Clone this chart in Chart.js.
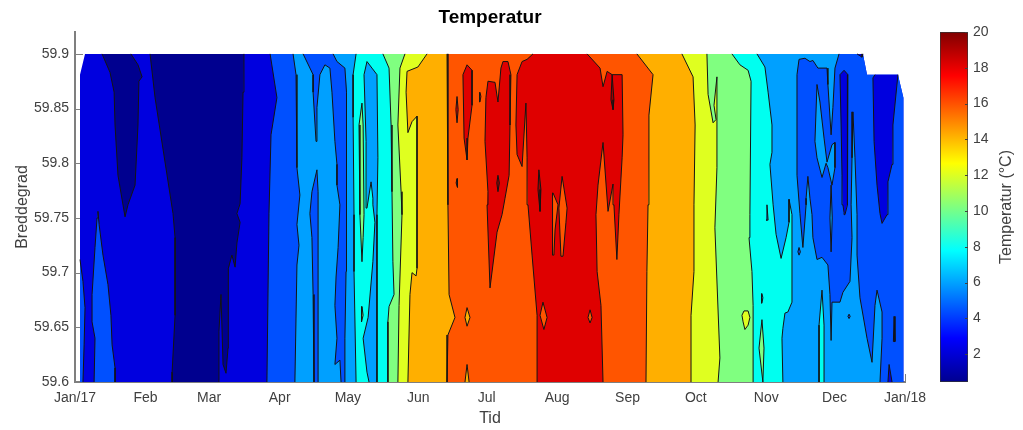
<!DOCTYPE html>
<html><head><meta charset="utf-8">
<style>html,body{margin:0;padding:0;background:#fff}canvas{position:absolute;top:0}</style>
<script src="https://cdn.jsdelivr.net/npm/chart.js@4"></script>
</head><body>
<canvas id="main" width="1023" height="430" style="left:0"></canvas>
<canvas id="bar" width="93" height="430" style="left:930px"></canvas>
<script>
const monthDays=[0,31,59,90,120,151,181,212,243,273,304,334,365];
const monthLabels=['Jan/17','Feb','Mar','Apr','May','Jun','Jul','Aug','Sep','Oct','Nov','Dec','Jan/18'];
const latTicks=[59.6,59.65,59.7,59.75,59.8,59.85,59.9];
const tempTicks=[2,4,6,8,10,12,14,16,18,20];
const tempRange=[0.45,20];

// contour outlines as [day of year, latitude]
const domain=[[4.4,59.9],[346.5,59.9],[348.3,59.881],[361.9,59.881],[364.3,59.86],[364.3,59.6],[2.2,59.6],[2.2,59.881]];
const janEdge=[[2.2,59.712],[3.5,59.692],[4.4,59.668],[4,59.634],[3.5,59.6],[2.2,59.6]];
const janWedge=[[10.1,59.756],[10.6,59.744],[12.3,59.716],[14.5,59.689],[15.8,59.661],[16.3,59.634],[17.6,59.613],[17.6,59.6],[8.4,59.6],[8.8,59.64],[7.5,59.655],[7.5,59.68],[8.8,59.723],[9.7,59.75]];
const febCold=[[11.9,59.9],[15.4,59.883],[17.2,59.865],[17.6,59.835],[18.9,59.789],[22,59.751],[23.3,59.762],[26.4,59.78],[27.7,59.835],[28.1,59.875],[29.5,59.879],[27.7,59.89],[24.6,59.9]];
const marCold=[[33,59.9],[35.2,59.86],[43.1,59.754],[44,59.732],[44,59.661],[42.7,59.609],[42.7,59.6],[63.3,59.6],[63.3,59.646],[64.2,59.68],[65.1,59.616],[66.4,59.608],[67.3,59.631],[67.3,59.655],[67.3,59.691],[67.7,59.704],[69,59.716],[70.4,59.705],[71.2,59.727],[72.6,59.746],[71.2,59.754],[72.6,59.763],[73.4,59.805],[73.9,59.865],[74.3,59.9]];
const level2=[[85.8,59.9],[88.8,59.86],[86.2,59.826],[85.3,59.754],[84.4,59.6],[364.3,59.6],[364.3,59.86],[361.9,59.881],[348.3,59.881],[346.5,59.9]];
const decCold1=[[336.4,59.881],[338.2,59.885],[339.9,59.881],[339.9,59.82],[339.5,59.762],[338.6,59.753],[338.2,59.755],[337.7,59.762],[337.3,59.789],[336.9,59.835]];
const decCold2=[[351.8,59.881],[350.9,59.878],[351.4,59.82],[352.7,59.78],[354,59.754],[354.9,59.745],[357.1,59.753],[357.5,59.783],[359.3,59.799],[359.7,59.835],[361.9,59.881]];
const decCold3=[[358,59.616],[357.5,59.6],[359.3,59.6]];
const decCold4=[[360.2,59.66],[360.6,59.637],[359.9,59.637]];
const decCold5=[[343.9,59.9],[346.5,59.9],[346.1,59.897]];
const level3=[[95.9,59.9],[97.2,59.881],[97.6,59.835],[97.6,59.796],[98.9,59.771],[97.6,59.744],[98.5,59.725],[97.6,59.707],[96.7,59.6],[354,59.6],[354.9,59.64],[354.9,59.664],[352.7,59.684],[351.8,59.67],[350.5,59.618],[348.3,59.64],[345.2,59.677],[343.9,59.716],[343.9,59.753],[343,59.805],[342.1,59.847],[341.7,59.805],[341.3,59.762],[341.7,59.732],[340.8,59.692],[337.7,59.682],[336.4,59.673],[332.9,59.673],[332.5,59.638],[332,59.68],[331.1,59.707],[328.5,59.714],[326.3,59.712],[324.5,59.732],[324.1,59.753],[323.2,59.768],[322.3,59.788],[321.5,59.768],[321.5,59.762],[320.1,59.723],[318.8,59.754],[317.5,59.789],[317.5,59.835],[317.5,59.881],[318.4,59.895],[321,59.896],[323.2,59.893],[324.5,59.894],[326.7,59.887],[330.7,59.887],[331.1,59.872],[332.5,59.826],[333.3,59.851],[334.2,59.887],[336,59.9]];
const decIsland=[[326.3,59.872],[327.6,59.856],[329.4,59.823],[330.7,59.801],[332.9,59.817],[334.2,59.819],[334.2,59.796],[332.9,59.78],[331.1,59.796],[330.3,59.8],[328.5,59.787],[326.3,59.805],[325.4,59.82]];
const decSliver=[[332.5,59.78],[333,59.75],[332.5,59.719],[332,59.75]];
const mayBand=[[100.3,59.9],[104.7,59.881],[104.7,59.865],[106,59.82],[106.4,59.851],[107.7,59.881],[109.9,59.89],[112.1,59.887],[113,59.865],[114.3,59.82],[115.2,59.799],[115.2,59.78],[116.5,59.762],[115.7,59.723],[114.8,59.696],[114.3,59.67],[115.2,59.64],[114.3,59.616],[116.5,59.62],[117,59.6],[118.7,59.6],[118.7,59.64],[119.2,59.701],[119.2,59.805],[119.6,59.865],[118.7,59.887],[115.2,59.893],[113.5,59.9]];
const aprStripe=[[106.4,59.794],[104.2,59.774],[103.3,59.754],[104.2,59.732],[104.7,59.68],[105.1,59.6],[106.9,59.6],[106.9,59.686],[106.9,59.732],[106.9,59.774]];
const decSpot1=[[318.4,59.723],[319,59.719],[318.4,59.716],[317.9,59.719]];
const decSpot2=[[340.4,59.662],[340.9,59.66],[340.4,59.658],[339.9,59.66]];
const level4=[[123.6,59.9],[122.3,59.881],[122.3,59.842],[122.7,59.753],[122.7,59.701],[123.6,59.6],[311.3,59.6],[310.9,59.64],[311.3,59.649],[312.2,59.663],[313.5,59.664],[315.3,59.673],[315.3,59.753],[314,59.767],[314,59.746],[312.7,59.732],[310.5,59.713],[308.3,59.735],[307,59.762],[305.6,59.799],[306.5,59.81],[306.5,59.835],[304.8,59.865],[303.4,59.888],[299.9,59.9]];
const mayIsland=[[128.4,59.893],[130.6,59.887],[132.8,59.881],[133.2,59.805],[132.8,59.753],[132.8,59.67],[132.8,59.6],[129.3,59.6],[128.4,59.609],[126.7,59.64],[128.9,59.659],[131,59.71],[131.9,59.746],[131,59.762],[131,59.768],[130.2,59.783],[128.4,59.759],[128,59.82],[127.1,59.881]];
const novSliver1=[[304.3,59.762],[304.8,59.748],[303.9,59.748]];
const novSliver2=[[302.1,59.681],[302.5,59.677],[302.1,59.672],[301.7,59.677]];
const decWarm=[[328.5,59.684],[327.2,59.652],[327.2,59.6],[329.4,59.6],[329.4,59.652]];
const level5=[[135.4,59.9],[138.1,59.887],[139,59.835],[139.4,59.774],[139.8,59.71],[140.3,59.68],[138.1,59.669],[137.6,59.655],[137.6,59.6],[298.2,59.6],[298.2,59.67],[297.7,59.701],[296.4,59.732],[296.8,59.753],[297.3,59.875],[296,59.885],[292.4,59.89],[288.9,59.9]];
const maySliver=[[126.2,59.855],[124.9,59.835],[125.3,59.753],[126.2,59.71],[126.7,59.732],[127.1,59.753],[126.7,59.835]];
const mayDiamond=[[126.2,59.669],[125.8,59.661],[126.2,59.655],[126.7,59.661]];
const novWedge=[[302.1,59.657],[300.8,59.631],[302.5,59.6],[303,59.631]];
const level6=[[145.1,59.9],[142.9,59.887],[142,59.835],[143.4,59.774],[143.8,59.753],[142.5,59.67],[142,59.6],[282.8,59.6],[283.6,59.622],[281.4,59.741],[282.3,59.796],[282.3,59.835],[282.3,59.879],[281,59.853],[281.9,59.84],[280.6,59.837],[278.4,59.863],[277.9,59.9]];
const octSpot=[[293.3,59.661],[294.2,59.665],[296,59.665],[296.8,59.659],[296,59.652],[294.6,59.648],[293.8,59.655]];
const level7=[[154.8,59.9],[150.8,59.888],[146,59.884],[145.6,59.865],[146.4,59.828],[148.2,59.838],[150.4,59.843],[150.4,59.762],[150.4,59.704],[150,59.697],[148.2,59.7],[147.3,59.68],[146.4,59.6],[270.9,59.6],[270.9,59.661],[272.2,59.701],[272.2,59.762],[272.7,59.835],[271.8,59.879],[266.9,59.9]];
const level8=[[163.6,59.9],[164,59.835],[164,59.762],[164.5,59.68],[167.1,59.659],[164,59.643],[163.6,59.6],[251.1,59.6],[251.5,59.701],[252,59.762],[252.4,59.805],[252.4,59.844],[254.2,59.881],[247.1,59.9]];
const junDiamond=[[172.4,59.668],[171.5,59.659],[172.4,59.651],[173.7,59.659]];
const junFoot=[[172.4,59.616],[171.5,59.6],[173.3,59.6]];
const level9=[[203.2,59.6],[203.2,59.661],[201,59.716],[199.2,59.762],[198.8,59.805],[198.3,59.855],[196.6,59.797],[194.4,59.808],[193.9,59.835],[194.4,59.881],[196.6,59.893],[198.8,59.895],[201.4,59.9],[225.2,59.9],[230.9,59.887],[232.2,59.87],[234,59.884],[236.2,59.881],[240.6,59.881],[241,59.826],[240.6,59.805],[239.2,59.753],[238.3,59.712],[237,59.762],[236.6,59.781],[234.4,59.756],[232.2,59.819],[230,59.78],[229.1,59.753],[229.6,59.701],[231.3,59.67],[232.2,59.6]];
const julFinger=[[181.6,59.875],[184.7,59.874],[186,59.856],[187.3,59.887],[188.2,59.893],[190.4,59.893],[191.7,59.881],[191.3,59.835],[190.9,59.789],[189.1,59.768],[187.8,59.753],[185.6,59.737],[182.5,59.686],[181.2,59.762],[181.6,59.774],[180.3,59.82],[180.7,59.86]];
const junFinger=[[172.4,59.89],[174.6,59.885],[174.6,59.853],[172.8,59.823],[172.4,59.803],[171.1,59.823],[170.6,59.881]];
const junSliver1=[[168,59.861],[168.5,59.849],[168,59.837],[167.5,59.849]];
const junSliver2=[[168,59.786],[168.4,59.782],[168,59.778],[167.6,59.782]];
const junSliver3=[[178.1,59.865],[178.5,59.861],[178.1,59.856],[177.7,59.861]];
const augWedge1=[[210.2,59.773],[212.4,59.762],[211.1,59.739],[210.6,59.716],[210.2,59.716],[209.8,59.762]];
const augWedge2=[[214.2,59.788],[216.4,59.759],[215.9,59.746],[214.6,59.715],[213.7,59.715],[212.8,59.759]];
const augDiamond1=[[205.8,59.673],[204.5,59.661],[206.2,59.648],[207.6,59.659]];
const augDiamond2=[[226.5,59.666],[225.6,59.659],[226.5,59.654],[227.4,59.659]];
const hot1=[[186,59.789],[186.6,59.782],[186,59.774],[185.5,59.782]];
const hot2=[[204,59.794],[204.9,59.776],[204.5,59.756],[203.6,59.776]];
const hot3=[[236.2,59.881],[237,59.858],[236.6,59.849],[235.7,59.858]];

const C={navy:'#00008F',blue1:'#0000DF',blue2:'#0050FF',blue3:'#00A0FF',cyan:'#00FFF0',green:'#80FF80',yellow:'#DFFF20',orange:'#FFAF00',dorange:'#FF5500',red:'#DF0000',dark:'#A00000'};
// painted bottom to top
const layers=[
 [domain,C.blue1],[janEdge,C.blue2],[janWedge,C.blue2],[febCold,C.navy],[marCold,C.navy],
 [level2,C.blue2],[decCold1,C.blue1],[decCold2,C.blue1],[decCold3,C.blue1],[decCold4,C.blue1],[decCold5,C.blue1],
 [decIsland,C.blue3],[decSliver,C.blue3],
 [level3,C.blue3],[mayBand,C.blue2],[aprStripe,C.blue2],[decSpot1,C.blue2],[decSpot2,C.blue2],
 [level4,C.cyan],[mayIsland,C.blue3],[novSliver1,C.blue3],[novSliver2,C.blue3],[decWarm,C.cyan],
 [level5,C.green],[maySliver,C.green],[mayDiamond,C.green],[novWedge,C.green],
 [level6,C.yellow],[octSpot,C.yellow],
 [level7,C.orange],[level8,C.dorange],[junDiamond,C.orange],[junFoot,C.orange],
 [level9,C.red],[julFinger,C.red],[junFinger,C.red],[junSliver1,C.red],[junSliver2,C.red],[junSliver3,C.red],
 [augWedge1,C.dorange],[augWedge2,C.dorange],[augDiamond1,C.dorange],[augDiamond2,C.dorange],
 [hot1,C.dark],[hot2,C.dark],[hot3,C.dark]
];
const rim=new Set(domain.map(p=>p[0]+','+p[1]));
const onRim=(a,b)=>{
 if(a.y===b.y&&(a.y===59.9||a.y===59.6))return true;
 if(a.y===59.881&&b.y===59.881&&a.x>=348)return true;
 if(a.x===b.x&&(a.x===2.2||a.x===364.3))return true;
 return rim.has(a.x+','+a.y)&&rim.has(b.x+','+b.y);
};
const datasets=layers.map(([pts,col],i)=>({
 data:pts.concat([pts[0]]).map(p=>({x:p[0],y:p[1]})),
 showLine:true,fill:false,backgroundColor:col,
 borderColor:'#141414',borderWidth:i===0?0:1,borderJoinStyle:'round',
 pointRadius:0,pointHoverRadius:0,tension:0,
 segment:{borderColor:c=>onRim(c.p0.parsed,c.p1.parsed)?'rgba(0,0,0,0)':undefined}
})).reverse();

const txt='#404040', font='"Liberation Sans",Arial,sans-serif';
const axisColor='#7f7f7f';
const inwardTicks={id:'inwardTicks',beforeDatasetsDraw(ch){
 const c=ch.ctx,a=ch.chartArea,x=ch.scales.x,y=ch.scales.y;
 c.save();c.strokeStyle=axisColor;c.lineWidth=1;c.beginPath();
 monthDays.forEach(d=>{const p=Math.round(x.getPixelForValue(d))+.5;c.moveTo(p,a.bottom);c.lineTo(p,a.bottom-8);});
 latTicks.forEach(v=>{const p=Math.round(y.getPixelForValue(v))+.5;c.moveTo(a.left,p);c.lineTo(a.left+8,p);});
 c.stroke();c.restore();
},
 beforeDatasetDraw(ch,args){
  const pts=args.meta.data,c=ch.ctx;
  c.save();c.fillStyle=ch.data.datasets[args.index].backgroundColor;c.beginPath();
  pts.forEach((p,i)=>i?c.lineTo(p.x,p.y):c.moveTo(p.x,p.y));
  c.closePath();c.fill();c.restore();
 }
};
new Chart(document.getElementById('main'),{
 type:'scatter',
 data:{datasets},
 plugins:[inwardTicks],
 options:{
  responsive:false,animation:false,events:[],
  layout:{padding:{left:0,right:118,top:0,bottom:0}},
  plugins:{legend:{display:false},tooltip:{enabled:false},
   title:{display:true,text:'Temperatur',fullSize:false,color:'#000',font:{family:font,size:19,weight:'bold'},padding:{top:6,bottom:3.2}}},
  scales:{
   x:{type:'linear',min:0,max:365,afterFit:s=>{s.height=48},
    afterBuildTicks:s=>{s.ticks=monthDays.map(v=>({value:v}))},
    grid:{display:false,drawTicks:false},border:{color:axisColor,width:2},
    ticks:{autoSkip:false,maxRotation:0,padding:8,color:txt,font:{family:font,size:14},callback:v=>monthLabels[monthDays.indexOf(v)]},
    title:{display:true,text:'Tid',color:txt,font:{family:font,size:16},padding:{top:0,bottom:2}}},
   y:{type:'linear',min:59.6,max:59.92,afterFit:s=>{s.width=75},
    afterBuildTicks:s=>{s.ticks=latTicks.map(v=>({value:v}))},
    grid:{display:false,drawTicks:false},border:{color:axisColor,width:2},
    ticks:{padding:6,color:txt,font:{family:font,size:14},callback:v=>String(v)},
    title:{display:true,text:'Breddegrad',color:txt,font:{family:font,size:16},padding:{top:13,bottom:0}}}
  }
 }
});

const jetStops=[[0,'#00008F'],[0.125,'#0000FF'],[0.375,'#00FFFF'],[0.625,'#FFFF00'],[0.875,'#FF0000'],[1,'#800000']];
const barTicks={id:'barTicks',afterDatasetsDraw(ch){
 const c=ch.ctx,a=ch.chartArea,y=ch.scales.y;
 c.save();c.strokeStyle='#404040';c.lineWidth=1;c.beginPath();
 tempTicks.forEach(v=>{const p=Math.round(y.getPixelForValue(v))+.5;c.moveTo(a.right,p);c.lineTo(a.right-3,p);});
 c.stroke();
 c.translate(77,(a.top+a.bottom)/2);c.rotate(-Math.PI/2);
 c.fillStyle=txt;c.font='16px '+font;c.textAlign='center';c.textBaseline='middle';
 c.fillText('Temperatur (°C)',0,0);
 c.restore();
}};
new Chart(document.getElementById('bar'),{
 type:'bar',
 data:{labels:[''],datasets:[{data:[tempRange],barPercentage:1,categoryPercentage:1,borderSkipped:false,borderWidth:1,borderColor:'#333',
  backgroundColor:ctx=>{const a=ctx.chart.chartArea;if(!a)return '#00f';const g=ctx.chart.ctx.createLinearGradient(0,a.bottom,0,a.top);jetStops.forEach(s=>g.addColorStop(s[0],s[1]));return g;}}]},
 plugins:[barTicks],
 options:{
  responsive:false,animation:false,events:[],
  layout:{padding:{left:10,right:0,top:32,bottom:48}},
  plugins:{legend:{display:false},tooltip:{enabled:false},title:{display:false}},
  scales:{
   x:{display:false},
   y:{position:'right',min:tempRange[0],max:tempRange[1],afterFit:s=>{s.width=55},
    afterBuildTicks:s=>{s.ticks=tempTicks.map(v=>({value:v}))},
    grid:{display:false,drawTicks:false},border:{display:false},
    ticks:{padding:5,color:txt,font:{family:font,size:14},callback:v=>String(v)}}
  }
 }
});
</script>
</body></html>
